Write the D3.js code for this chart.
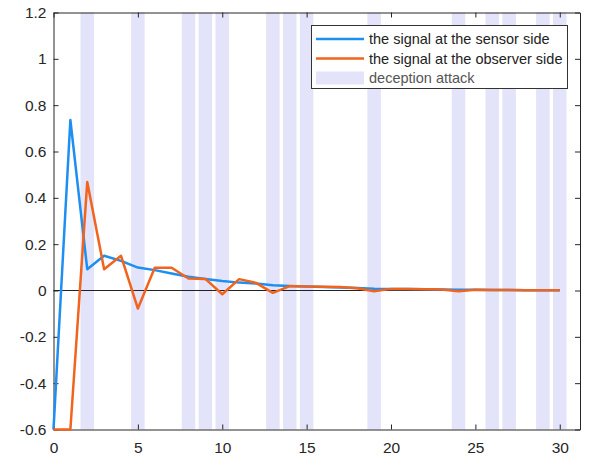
<!DOCTYPE html>
<html>
<head>
<meta charset="utf-8">
<script src="https://cdn.jsdelivr.net/npm/d3@7"></script>
<style>
	html, body { margin: 0; padding: 0; background: #fff; }
	svg { display: block; font-family: "Liberation Sans", Arial, sans-serif; }
</style>
</head>
<body>
<div id="chart"></div>
<script>
// time steps k = 0..30
let steps = d3.range( 0, 31 );
// signal at the sensor side
let sensorSignal = [ -0.6, 0.736, 0.092, 0.150, 0.128, 0.099, 0.088, 0.073, 0.059, 0.050,
	0.041, 0.034, 0.030, 0.023, 0.019, 0.017, 0.015, 0.013, 0.011, 0.008,
	0.007, 0.006, 0.005, 0.004, 0.003, 0.003, 0.002, 0.002, 0.001, 0.001, 0.001 ];
// signal at the observer side
let observerSignal = [ -0.6, -0.6, 0.468, 0.092, 0.150, -0.078, 0.098, 0.098, 0.052, 0.050,
	-0.016, 0.049, 0.033, -0.010, 0.019, 0.017, 0.016, 0.015, 0.010, -0.003,
	0.007, 0.006, 0.005, 0.004, -0.003, 0.003, 0.002, 0.002, 0.001, 0.001, 0.001 ];
// instants where the deception attack happens
let attackSteps = [ 2, 5, 8, 9, 10, 13, 14, 15, 19, 24, 26, 27, 29, 30 ];
let xTicks = [ 0, 5, 10, 15, 20, 25, 30 ];
let yTicks = [ -0.6, -0.4, -0.2, 0, 0.2, 0.4, 0.6, 0.8, 1, 1.2 ];
let legendLabels = [ 'the signal at the sensor side', 'the signal at the observer side', 'deception attack' ];

let width = 595,
	height = 460,
	padding = { top: 12.5, right: 15, bottom: 30.5, left: 53.5 },
	barWidth = 0.8,
	blue = '#1f8ef1',
	orange = '#f0641e',
	attackColor = '#e3e3fa',
	axisColor = '#262626';

let svg = d3.select( '#chart' )
	.append( 'svg' )
	.attr( 'width', width )
	.attr( 'height', height );

let x = d3.scaleLinear()
		.domain( [ 0, 31.2 ] )
		.range( [ padding.left, width - padding.right ] ),
	y = d3.scaleLinear()
		.domain( [ -0.6, 1.2 ] )
		.range( [ height - padding.bottom, padding.top ] );

// attack bands (full height)
svg.append( 'g' )
	.selectAll( 'rect' )
	.data( attackSteps )
	.enter()
	.append( 'rect' )
	.attr( 'x', d => x( d - barWidth / 2 ) )
	.attr( 'y', y( 1.2 ) )
	.attr( 'width', d => x( d + barWidth / 2 ) - x( d - barWidth / 2 ) )
	.attr( 'height', y( -0.6 ) - y( 1.2 ) )
	.attr( 'fill', attackColor );

// zero reference line
svg.append( 'line' )
	.attr( 'x1', x( 0 ) )
	.attr( 'x2', x( 30 ) )
	.attr( 'y1', y( 0 ) )
	.attr( 'y2', y( 0 ) )
	.attr( 'stroke', '#222' )
	.attr( 'stroke-width', 1 );

let fmt = d => String( +d.toFixed( 1 ) );

// axes with the ticks pointing inside, box on all four sides
let xAxis = svg.append( 'g' )
	.attr( 'transform', `translate(0,${ y( -0.6 ) })` )
	.call( d3.axisBottom( x ).tickValues( xTicks ).tickFormat( fmt ).tickSizeInner( -5 ).tickSizeOuter( 0 ).tickPadding( 12 ) );
let yAxis = svg.append( 'g' )
	.attr( 'transform', `translate(${ x( 0 ) },0)` )
	.call( d3.axisLeft( y ).tickValues( yTicks ).tickFormat( fmt ).tickSizeInner( -5 ).tickSizeOuter( 0 ).tickPadding( 7 ) );
let xTop = svg.append( 'g' )
	.attr( 'transform', `translate(0,${ y( 1.2 ) })` )
	.call( d3.axisTop( x ).tickValues( xTicks ).tickFormat( '' ).tickSizeInner( -5 ).tickSizeOuter( 0 ) );
let yRight = svg.append( 'g' )
	.attr( 'transform', `translate(${ x( 31.2 ) },0)` )
	.call( d3.axisRight( y ).tickValues( yTicks ).tickFormat( '' ).tickSizeInner( -5 ).tickSizeOuter( 0 ) );

[ xAxis, yAxis, xTop, yRight ].forEach( g => {
	g.selectAll( 'path, line' ).attr( 'stroke', axisColor ).attr( 'stroke-width', 1 );
	g.selectAll( 'text' )
		.attr( 'fill', axisColor )
		.style( 'font-size', '15.5px' )
		.style( 'font-family', '"Liberation Sans", Arial, sans-serif' );
} );

// signal lines
let line = d3.line()
	.x( ( d, i ) => x( steps[ i ] ) )
	.y( d => y( d ) );

svg.append( 'path' )
	.datum( sensorSignal )
	.attr( 'fill', 'none' )
	.attr( 'stroke', blue )
	.attr( 'stroke-width', 2.5 )
	.attr( 'stroke-linejoin', 'round' )
	.attr( 'd', line );

svg.append( 'path' )
	.datum( observerSignal )
	.attr( 'fill', 'none' )
	.attr( 'stroke', orange )
	.attr( 'stroke-width', 2.5 )
	.attr( 'stroke-linejoin', 'round' )
	.attr( 'd', line );

// legend
let legend = svg.append( 'g' ).attr( 'transform', 'translate(311.5,25.5)' );
legend.append( 'rect' )
	.attr( 'width', 256 )
	.attr( 'height', 63 )
	.attr( 'fill', '#fff' )
	.attr( 'stroke', '#333' )
	.attr( 'stroke-width', 1 );

let entries = legend.selectAll( 'g.entry' )
	.data( legendLabels )
	.enter()
	.append( 'g' )
	.attr( 'class', 'entry' )
	.attr( 'transform', ( d, i ) => `translate(0,${ 13.5 + i * 19.5 })` );

entries.filter( ( d, i ) => i < 2 )
	.append( 'line' )
	.attr( 'x1', 4.5 )
	.attr( 'x2', 52.5 )
	.attr( 'stroke', ( d, i ) => i === 0 ? blue : orange )
	.attr( 'stroke-width', 2.5 );

entries.filter( ( d, i ) => i === 2 )
	.append( 'rect' )
	.attr( 'x', 4.5 )
	.attr( 'y', -6.5 )
	.attr( 'width', 48 )
	.attr( 'height', 13 )
	.attr( 'fill', attackColor );

entries.append( 'text' )
	.attr( 'x', 57.5 )
	.attr( 'dy', '0.35em' )
	.attr( 'fill', ( d, i ) => i === 2 ? '#555' : '#222' )
	.style( 'font-size', '14.5px' )
	.text( d => d );
</script>
</body>
</html>
